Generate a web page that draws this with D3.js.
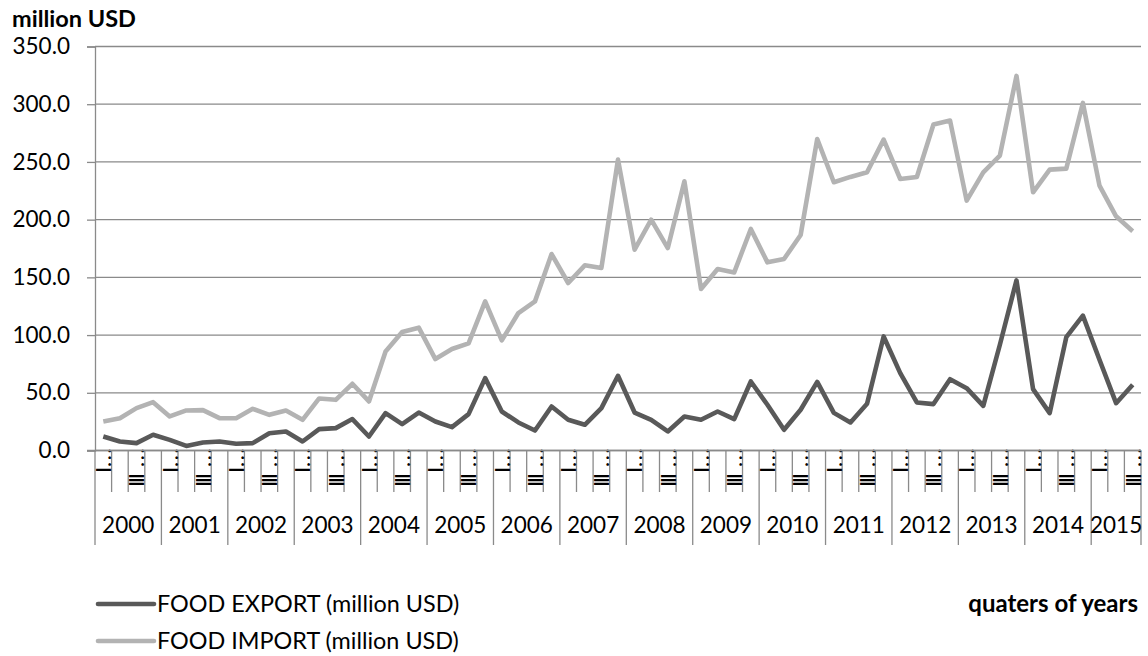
<!DOCTYPE html>
<html>
<head>
<meta charset="utf-8">
<script src="https://cdn.jsdelivr.net/npm/d3@7"></script>
<style>
  body { margin: 0; background: #fff; }
  text { font-family: Lato, "Open Sans", sans-serif; fill: #000; }
</style>
</head>
<body>
<div id="canvas"></div>
<script>
// data
const years = d3.range(2000, 2016);
const quarterNames = ["I", "II", "III", "IV"];
const lastYearQuarters = 3;

const foodExport = [12.1, 7.8, 6.4, 13.6, 9.2, 4.0, 6.9, 7.8, 5.8, 6.4, 15.0, 16.5, 7.8, 18.5, 19.4, 27.2,
    12.1, 32.4, 22.8, 32.9, 25.1, 20.2, 31.5, 62.7, 33.8, 24.3, 17.3, 38.1, 26.6, 22.3, 36.7, 64.7,
    32.9, 26.6, 16.5, 29.5, 26.6, 33.8, 27.2, 59.8, 39.6, 17.9, 35.3, 59.4, 32.6, 24.3, 40.5, 98.8,
    67.0, 41.6, 40.2, 61.8, 54.0, 38.7, 91.6, 147.4, 53.2, 32.4, 98.2, 116.8, 78.6, 41.0, 56.9];
const foodImport = [25.1, 28.0, 36.7, 41.9, 29.5, 34.7, 35.0, 28.0, 28.0, 36.1, 30.9, 34.7, 26.6, 45.1, 43.9, 57.8,
    42.5, 85.8, 102.6, 106.4, 79.2, 87.9, 92.8, 129.2, 95.4, 119.1, 129.2, 170.2, 145.1, 160.4, 158.1, 252.0,
    174.0, 200.0, 175.4, 233.2, 139.9, 157.2, 154.3, 191.9, 163.0, 165.9, 186.7, 269.9, 232.4, 237.0, 241.0, 269.3,
    235.2, 237.0, 282.4, 285.8, 216.5, 241.0, 255.5, 324.5, 223.7, 243.3, 244.2, 301.1, 229.5, 202.9, 189.9];
const yTicks = [0, 50, 100, 150, 200, 250, 300, 350];

const seriesNames = ["FOOD EXPORT (million USD)", "FOOD IMPORT (million USD)"];
const seriesColours = ["#595959", "#b3b3b3"];

// quarter keys
let quarters = [];
years.forEach(yr => {
    const n = yr === years[years.length - 1] ? lastYearQuarters : 4;
    for (let q = 0; q < n; q++) quarters.push({key: yr + "-" + q, year: yr, q: q});
});

// svg canvas
const width = 1148, height = 656;
const svg = d3.select("#canvas")
    .append("svg")
    .attr("width", width)
    .attr("height", height);

// scales
const x = d3.scaleBand()
    .domain(quarters.map(d => d.key))
    .range([95, 1141]);

const y = d3.scaleLinear()
    .domain([0, 350])
    .range([450.5, 46.5]);

const gridColour = "#8a8a8a";

// gridlines
svg.append("g")
    .selectAll("line")
    .data(yTicks)
    .join("line")
    .attr("x1", 95)
    .attr("x2", 1141)
    .attr("y1", d => y(d))
    .attr("y2", d => y(d))
    .attr("stroke", gridColour)
    .attr("stroke-width", 1.3);

// y axis
const yAxis = svg.append("g")
    .attr("transform", "translate(95,0)")
    .call(d3.axisLeft(y).tickValues(yTicks).tickSize(8).tickPadding(17).tickFormat(d3.format(".1f")));
yAxis.select(".domain").attr("stroke", gridColour).attr("stroke-width", 1.3);
yAxis.selectAll(".tick line").attr("stroke", gridColour).attr("stroke-width", 1.3);
yAxis.selectAll(".tick text")
    .attr("font-family", "Lato, sans-serif")
    .attr("font-size", 22.5)
    .attr("fill", "#000");

svg.append("text")
    .attr("x", 12)
    .attr("y", 27)
    .attr("font-size", 23.5)
    .attr("font-weight", "bold")
    .text("million USD");

// x axis: quarter ticks
const xAxis = svg.append("g");
xAxis.selectAll(".qtick")
    .data(quarters)
    .join("line")
    .attr("x1", d => x(d.key) + x.bandwidth())
    .attr("x2", d => x(d.key) + x.bandwidth())
    .attr("y1", y(0))
    .attr("y2", d => (d.q === 3 || d.key === quarters[quarters.length - 1].key) ? 545 : 492)
    .attr("stroke", gridColour)
    .attr("stroke-width", 1.3);

xAxis.append("line")
    .attr("x1", 95).attr("x2", 95)
    .attr("y1", y(0)).attr("y2", 545)
    .attr("stroke", gridColour)
    .attr("stroke-width", 1.3);

// quarter labels (every second one shown, rotated)
const qLabel = xAxis.selectAll(".qlabel")
    .data(quarters.filter(d => d.q % 2 === 0))
    .join("text")
    .attr("transform", d => "translate(" + (x(d.key) + x.bandwidth() - 0.5) + ",450) rotate(-90)")
    .attr("font-size", 22);
qLabel.append("tspan")
    .attr("x", d => d.q === 0 ? -23 : -37)
    .attr("letter-spacing", d => d.q === 0 ? 0 : -2.3)
    .text(d => quarterNames[d.q]);
qLabel.append("tspan")
    .attr("x", -17)
    .attr("letter-spacing", 1.5)
    .text("...");

// year labels
const yearSpan = years.map(yr => {
    const qs = quarters.filter(d => d.year === yr);
    return {year: yr, x0: x(qs[0].key), x1: x(qs[qs.length - 1].key) + x.bandwidth()};
});
xAxis.selectAll(".ylabel")
    .data(yearSpan)
    .join("text")
    .attr("x", d => (d.x0 + d.x1) / 2)
    .attr("y", 533)
    .attr("text-anchor", "middle")
    .attr("font-size", 22.5)
    .text(d => d.year);

// x axis line
xAxis.append("line")
    .attr("x1", 87).attr("x2", 1141)
    .attr("y1", y(0)).attr("y2", y(0))
    .attr("stroke", gridColour)
    .attr("stroke-width", 1.3);

// series lines
const line = d3.line()
    .x((d, i) => x(quarters[i].key) + x.bandwidth() / 2)
    .y(d => y(d));

[foodExport, foodImport].forEach((values, index) => {
    svg.append("path")
        .datum(values)
        .attr("fill", "none")
        .attr("stroke", seriesColours[index])
        .attr("stroke-width", 4.6)
        .attr("stroke-linejoin", "round")
        .attr("d", line);
});

// legend
const legend = svg.append("g")
    .selectAll("g")
    .data(seriesNames)
    .join("g")
    .attr("transform", (d, i) => "translate(97," + (604 + i * 37) + ")");
legend.append("line")
    .attr("x1", 1).attr("x2", 57)
    .attr("stroke", (d, i) => seriesColours[i])
    .attr("stroke-width", 4.6)
    .attr("stroke-linecap", "round");
legend.append("text")
    .attr("x", 60)
    .attr("dy", "0.35em")
    .attr("font-size", 23.4)
    .text(d => d);

svg.append("text")
    .attr("x", 1138)
    .attr("y", 604)
    .attr("dy", "0.35em")
    .attr("text-anchor", "end")
    .attr("font-size", 24)
    .attr("font-weight", "bold")
    .text("quaters of years");
</script>
</body>
</html>
